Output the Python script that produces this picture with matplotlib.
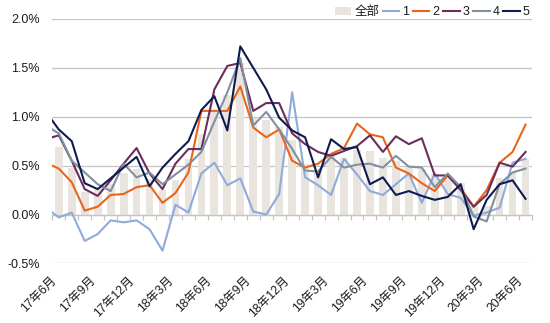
import numpy as np
import matplotlib
matplotlib.use("Agg")
import matplotlib.pyplot as plt
from matplotlib.patches import Patch
from matplotlib.lines import Line2D
from matplotlib.ticker import FuncFormatter

plt.rcParams['font.family'] = ['Liberation Sans', 'Noto Sans CJK SC']

# Monthly periods; line series start one month before the bars
months = [
    "17年5月", "17年6月", "17年7月", "17年8月", "17年9月", "17年10月", "17年11月",
    "17年12月", "18年1月", "18年2月", "18年3月", "18年4月", "18年5月", "18年6月",
    "18年7月", "18年8月", "18年9月", "18年10月", "18年11月", "18年12月", "19年1月",
    "19年2月", "19年3月", "19年4月", "19年5月", "19年6月", "19年7月", "19年8月",
    "19年9月", "19年10月", "19年11月", "19年12月", "20年1月", "20年2月", "20年3月",
    "20年4月", "20年5月", "20年6月",
]

# 全部 (bars), 17年6月 .. 20年6月, in %
overall = [0.69, 0.48, 0.23, 0.27, 0.31, 0.42, 0.47, 0.36, 0.25, 0.35,
           0.57, 0.82, 1.05, 1.22, 1.55, 0.99, 0.97, 0.90, 0.76, 0.52,
           0.45, 0.60, 0.58, 0.66, 0.65, 0.58, 0.55, 0.49, 0.47, 0.41,
           0.37, 0.32, 0.09, 0.09, 0.37, 0.43, 0.57]

# Groups 1-5 (lines), 17年5月 .. 20年6月, in %
g1 = [0.07, -0.03, 0.02, -0.27, -0.20, -0.06, -0.08, -0.06, -0.15, -0.37,
      0.10, 0.02, 0.42, 0.53, 0.30, 0.37, 0.03, 0.00, 0.21, 1.25,
      0.38, 0.30, 0.20, 0.57, 0.41, 0.24, 0.20, 0.31, 0.42, 0.12,
      0.42, 0.21, 0.17, -0.01, 0.02, 0.07, 0.53, 0.57]
g2 = [0.53, 0.47, 0.33, 0.04, 0.08, 0.20, 0.21, 0.28, 0.30, 0.12,
      0.22, 0.43, 1.06, 1.06, 1.06, 1.31, 0.89, 0.79, 0.87, 0.55,
      0.48, 0.52, 0.62, 0.68, 0.93, 0.82, 0.79, 0.48, 0.42, 0.32,
      0.24, 0.40, 0.27, 0.08, 0.25, 0.53, 0.64, 0.92]
g3 = [0.77, 0.81, 0.55, 0.26, 0.19, 0.35, 0.52, 0.68, 0.42, 0.26,
      0.52, 0.67, 0.67, 1.28, 1.52, 1.55, 1.06, 1.14, 1.14, 0.83,
      0.72, 0.64, 0.60, 0.65, 0.70, 0.81, 0.64, 0.80, 0.72, 0.78,
      0.40, 0.40, 0.25, 0.08, 0.20, 0.53, 0.49, 0.64]
g4 = [0.91, 0.83, 0.55, 0.43, 0.31, 0.24, 0.52, 0.38, 0.43, 0.31,
      0.41, 0.51, 0.64, 0.95, 1.25, 1.60, 0.91, 1.05, 0.87, 0.67,
      0.45, 0.44, 0.59, 0.48, 0.51, 0.52, 0.48, 0.60, 0.49, 0.48,
      0.28, 0.42, 0.28, -0.02, -0.07, 0.31, 0.43, 0.47]
g5 = [1.05, 0.87, 0.75, 0.32, 0.26, 0.37, 0.48, 0.59, 0.29, 0.48,
      0.62, 0.75, 1.07, 1.21, 0.86, 1.72, 1.50, 1.28, 0.99, 0.86,
      0.79, 0.38, 0.77, 0.67, 0.69, 0.31, 0.38, 0.20, 0.24, 0.19,
      0.15, 0.18, 0.31, -0.15, 0.15, 0.31, 0.35, 0.16]

series_names = ["1", "2", "3", "4", "5"]
series_values = [g1, g2, g3, g4, g5]

BAR_COLOR = "#E9E4DE"
LINE_COLORS = ["#8FAADC", "#EC6419", "#6B2D5B", "#8090A0", "#0E1B4F"]
GRID_COLOR = "#C4C4C4"
TEXT_COLOR = "#1A1A1A"

fig = plt.figure(figsize=(5.5, 3.23), dpi=100)
ax = fig.add_axes([0.0951, 0.1845, 0.8722, 0.7567])

bar_months = months[1:]
x_bar = np.arange(len(overall))
x_line = np.arange(len(months)) - 1

ax.bar(x_bar, overall, width=0.6, color=BAR_COLOR, zorder=2)
for vals, color in zip(series_values, LINE_COLORS):
    ax.plot(x_line, vals, color=color, lw=1.5, zorder=3)

ax.set_xlim(-0.5, len(overall) - 0.5)
ax.set_ylim(-0.5, 2.0)

# y axis: percent labels with horizontal gridlines
ax.set_yticks(np.arange(-0.5, 2.01, 0.5))
ax.yaxis.set_major_formatter(FuncFormatter(lambda v, _: f"{v:.1f}%"))
ax.yaxis.grid(True, color=GRID_COLOR, lw=0.9, zorder=0)
ax.set_axisbelow(True)
ax.tick_params(axis='y', length=0, pad=9, labelsize=9, labelcolor=TEXT_COLOR)

for side in ("left", "right", "top"):
    ax.spines[side].set_visible(False)
ax.spines["bottom"].set_position(("data", 0))
ax.spines["bottom"].set_color(GRID_COLOR)
ax.spines["bottom"].set_linewidth(0.9)
ax.spines["bottom"].set_zorder(2.5)

# category boundaries marked on the zero line
ax.set_xticks([])
ax.set_xticks(np.arange(-0.5, len(overall), 1.0), minor=True)
ax.tick_params(axis='x', which='minor', length=3.5, width=0.9,
               color=GRID_COLOR, direction='out')

# quarterly month labels along the bottom edge
sec = ax.secondary_xaxis('bottom')
sec.set_xticks(x_bar[::3], bar_months[::3])
sec.tick_params(length=0, pad=8, labelsize=8.7, labelcolor=TEXT_COLOR)
sec.spines['bottom'].set_visible(False)
plt.setp(sec.get_xticklabels(), rotation=45, ha='right')

handles = [Patch(facecolor=BAR_COLOR, edgecolor='none')]
handles += [Line2D([], [], color=c, lw=1.5) for c in LINE_COLORS]
labels = ["全部"] + series_names
fig.legend(handles, labels, ncol=6, loc='center right',
           bbox_to_anchor=(0.963, 0.962), frameon=False, fontsize=9,
           handlelength=1.3, handleheight=0.55, handletextpad=0.25,
           columnspacing=0.3, borderpad=0, borderaxespad=0,
           labelcolor=TEXT_COLOR)

fig.savefig("out.png", dpi=100)
